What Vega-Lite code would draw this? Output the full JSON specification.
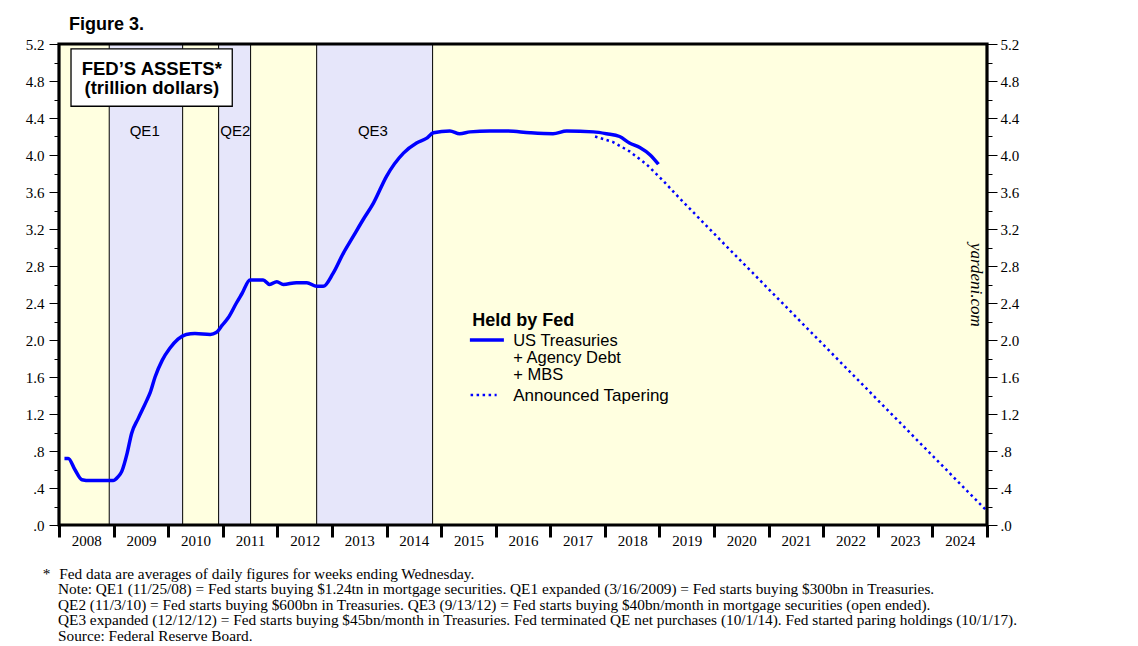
{
  "$schema": "https://vega.github.io/schema/vega-lite/v6.json",
  "width": 928,
  "height": 481,
  "autosize": "none",
  "padding": {"left": 59, "top": 44, "right": 151, "bottom": 121},
  "background": "white",
  "title": {"text": "Figure 3.", "anchor": "start", "frame": "group", "dx": 10, "offset": 3, "font": "Liberation Sans", "fontSize": 18, "fontWeight": "bold", "color": "black"},
  "config": {"view": {"fill": "#FFFFE0", "stroke": null}},
  "datasets": {
    "qe": [
      {"name": "QE1", "start": 2008.92, "end": 2010.265},
      {"name": "QE2", "start": 2010.924, "end": 2011.51},
      {"name": "QE3", "start": 2012.72, "end": 2014.844}
    ],
    "bounds": [
      {"t": 2008.92}, {"t": 2010.265}, {"t": 2010.924}, {"t": 2011.51}, {"t": 2012.72}, {"t": 2014.844}
    ],
    "held": [
      {"t": 2008.10, "v": 0.72}, {"t": 2008.17, "v": 0.72}, {"t": 2008.29, "v": 0.60}, {"t": 2008.42, "v": 0.49},
      {"t": 2008.57, "v": 0.48}, {"t": 2008.75, "v": 0.48}, {"t": 2008.99, "v": 0.48}, {"t": 2009.08, "v": 0.52},
      {"t": 2009.15, "v": 0.58}, {"t": 2009.25, "v": 0.78}, {"t": 2009.33, "v": 0.99}, {"t": 2009.45, "v": 1.15},
      {"t": 2009.61, "v": 1.35}, {"t": 2009.67, "v": 1.43}, {"t": 2009.76, "v": 1.60}, {"t": 2009.89, "v": 1.78},
      {"t": 2010.03, "v": 1.91}, {"t": 2010.18, "v": 2.01}, {"t": 2010.33, "v": 2.06}, {"t": 2010.49, "v": 2.07},
      {"t": 2010.77, "v": 2.06}, {"t": 2010.88, "v": 2.08}, {"t": 2010.99, "v": 2.16}, {"t": 2011.10, "v": 2.24},
      {"t": 2011.25, "v": 2.40}, {"t": 2011.35, "v": 2.50}, {"t": 2011.50, "v": 2.65}, {"t": 2011.74, "v": 2.65},
      {"t": 2011.86, "v": 2.60}, {"t": 2011.99, "v": 2.63}, {"t": 2012.11, "v": 2.60}, {"t": 2012.35, "v": 2.62},
      {"t": 2012.54, "v": 2.62}, {"t": 2012.72, "v": 2.58}, {"t": 2012.84, "v": 2.58}, {"t": 2013.02, "v": 2.72},
      {"t": 2013.21, "v": 2.94}, {"t": 2013.39, "v": 3.12}, {"t": 2013.57, "v": 3.30}, {"t": 2013.76, "v": 3.48},
      {"t": 2014.00, "v": 3.77}, {"t": 2014.31, "v": 4.02}, {"t": 2014.55, "v": 4.13}, {"t": 2014.73, "v": 4.18},
      {"t": 2014.86, "v": 4.24}, {"t": 2015.16, "v": 4.26}, {"t": 2015.34, "v": 4.23}, {"t": 2015.53, "v": 4.25},
      {"t": 2015.89, "v": 4.26}, {"t": 2016.20, "v": 4.26}, {"t": 2016.63, "v": 4.24}, {"t": 2017.05, "v": 4.23},
      {"t": 2017.30, "v": 4.26}, {"t": 2017.79, "v": 4.25}, {"t": 2018.03, "v": 4.23}, {"t": 2018.27, "v": 4.20},
      {"t": 2018.45, "v": 4.13}, {"t": 2018.64, "v": 4.08}, {"t": 2018.83, "v": 4.00}, {"t": 2018.98, "v": 3.90}
    ],
    "taper": [
      {"t": 2017.82, "v": 4.20}, {"t": 2018.15, "v": 4.14}, {"t": 2018.45, "v": 4.04}, {"t": 2018.76, "v": 3.90},
      {"t": 2019.07, "v": 3.72}, {"t": 2019.34, "v": 3.55}, {"t": 2020.00, "v": 3.15}, {"t": 2021.00, "v": 2.55},
      {"t": 2022.00, "v": 1.95}, {"t": 2023.00, "v": 1.35}, {"t": 2024.00, "v": 0.75}, {"t": 2025.00, "v": 0.15}
    ]
  },
  "layer": [
    {
      "data": {"name": "qe"},
      "mark": {"type": "rect", "color": "#E6E6FA"},
      "encoding": {
        "x": {"field": "start", "type": "quantitative", "axis": null},
        "x2": {"field": "end"},
        "y": {"datum": 0, "axis": null},
        "y2": {"datum": 5.2}
      }
    },
    {
      "data": {"name": "bounds"},
      "mark": {"type": "rule", "color": "black", "strokeWidth": 1},
      "encoding": {
        "x": {"field": "t", "type": "quantitative", "axis": null},
        "y": {"datum": 0, "axis": null},
        "y2": {"datum": 5.2}
      }
    },
    {
      "data": {"name": "held"},
      "mark": {"type": "line", "color": "#0000FF", "strokeWidth": 3.5, "interpolate": "monotone"},
      "encoding": {
        "x": {
          "field": "t", "type": "quantitative",
          "scale": {"domain": [2008, 2025], "nice": false, "zero": false},
          "axis": {
            "orient": "bottom",
            "values": [2008, 2009, 2010, 2011, 2012, 2013, 2014, 2015, 2016, 2017, 2018, 2019, 2020, 2021, 2022, 2023, 2024, 2025],
            "labelExpr": "datum.value < 2025 ? format(datum.value, 'd') : ''",
            "labelOffset": 27.3,
            "labelFlush": false, "labelOverlap": false, "labelBound": false,
            "tickSize": 12, "tickWidth": 3, "tickColor": "black",
            "domain": false, "grid": false,
            "labelFont": "Liberation Serif", "labelFontSize": 15, "labelColor": "black", "labelPadding": -4,
            "title": [
              "*\u2002\u200aFed data are averages of daily figures for weeks ending Wednesday.",
              "\u200b\u2003Note: QE1 (11/25/08) = Fed starts buying $1.24tn in mortgage securities. QE1 expanded (3/16/2009) = Fed starts buying $300bn in Treasuries.",
              "\u200b\u2003QE2 (11/3/10) = Fed starts buying $600bn in Treasuries. QE3 (9/13/12) = Fed starts buying $40bn/month in mortgage securities (open ended).",
              "\u200b\u2003QE3 expanded (12/12/12) = Fed starts buying $45bn/month in Treasuries. Fed terminated QE net purchases (10/1/14). Fed started paring holdings (10/1/17).",
              "\u200b\u2003Source: Federal Reserve Board."
            ],
            "titleX": -16.8, "titleY": 53, "titleAlign": "left", "titleAnchor": "start", "titleBaseline": "alphabetic",
            "titleFont": "Liberation Serif", "titleFontSize": 15.3, "titleFontWeight": "normal", "titleLineHeight": 15.5, "titleColor": "black"
          }
        },
        "y": {
          "field": "v", "type": "quantitative",
          "scale": {"domain": [0, 5.2], "nice": false},
          "axis": {
            "orient": "left",
            "values": [0, 0.4, 0.8, 1.2, 1.6, 2.0, 2.4, 2.8, 3.2, 3.6, 4.0, 4.4, 4.8, 5.2],
            "labelExpr": "datum.value < 1 ? '.' + format(datum.value * 10, '.0f') : format(datum.value, '.1f')",
            "tickSize": 10, "tickWidth": 1, "tickColor": "black", "labelPadding": 5,
            "domain": false, "grid": false, "title": null, "labelFlush": false, "labelOverlap": false,
            "labelFont": "Liberation Serif", "labelFontSize": 15, "labelColor": "black"
          }
        }
      }
    },
    {
      "data": {"name": "taper"},
      "mark": {"type": "line", "color": "#0000FF", "strokeWidth": 2.5, "strokeDash": [2.5, 3.5]},
      "encoding": {
        "x": {"field": "t", "type": "quantitative", "axis": null},
        "y": {
          "field": "v", "type": "quantitative",
          "axis": {
            "orient": "right",
            "values": [0, 0.4, 0.8, 1.2, 1.6, 2.0, 2.4, 2.8, 3.2, 3.6, 4.0, 4.4, 4.8, 5.2],
            "labelExpr": "datum.value < 1 ? '.' + format(datum.value * 10, '.0f') : format(datum.value, '.1f')",
            "tickSize": 10, "tickWidth": 1, "tickColor": "black", "labelPadding": 3,
            "domain": false, "grid": false, "title": null, "labelFlush": false, "labelOverlap": false,
            "labelFont": "Liberation Serif", "labelFontSize": 15, "labelColor": "black"
          }
        }
      }
    },
    {
      "data": {"name": "held"},
      "mark": {"type": "point", "opacity": 0},
      "encoding": {
        "x": {"field": "t", "type": "quantitative", "axis": null},
        "y": {
          "field": "v", "type": "quantitative",
          "axis": {
            "orient": "left",
            "values": [0.2, 0.6, 1.0, 1.4, 1.8, 2.2, 2.6, 3.0, 3.4, 3.8, 4.2, 4.6, 5.0],
            "labels": false, "tickSize": 5, "tickWidth": 1, "tickColor": "black",
            "domain": false, "grid": false, "title": null
          }
        }
      }
    },
    {
      "data": {"name": "taper"},
      "mark": {"type": "point", "opacity": 0},
      "encoding": {
        "x": {"field": "t", "type": "quantitative", "axis": null},
        "y": {
          "field": "v", "type": "quantitative",
          "axis": {
            "orient": "right",
            "values": [0.2, 0.6, 1.0, 1.4, 1.8, 2.2, 2.6, 3.0, 3.4, 3.8, 4.2, 4.6, 5.0],
            "labels": false, "tickSize": 5, "tickWidth": 1, "tickColor": "black",
            "domain": false, "grid": false, "title": null
          }
        }
      }
    },
    {
      "data": {"values": [{"item": "frame"}]},
      "mark": {"type": "rect", "fillOpacity": 0, "stroke": "black", "strokeWidth": 3.2},
      "encoding": {
        "x": {"datum": 2008, "axis": null},
        "x2": {"datum": 2025},
        "y": {"datum": 0, "axis": null},
        "y2": {"datum": 5.2}
      }
    },
    {
      "data": {"values": [{"item": "titlebox"}]},
      "mark": {"type": "rect", "fill": "white", "stroke": "black", "strokeWidth": 1.3},
      "encoding": {
        "x": {"datum": 2008.22, "axis": null},
        "x2": {"datum": 2011.174},
        "y": {"datum": 4.527, "axis": null},
        "y2": {"datum": 5.148}
      }
    },
    {
      "data": {"values": [{"label": ["FED\u2019S ASSETS*", "(trillion dollars)"]}]},
      "mark": {"type": "text", "font": "Liberation Sans", "fontSize": 18.5, "fontWeight": "bold", "align": "center", "baseline": "alphabetic", "lineHeight": 19.5, "color": "black"},
      "encoding": {
        "text": {"field": "label"},
        "x": {"datum": 2009.70, "axis": null},
        "y": {"datum": 4.865, "axis": null}
      }
    },
    {
      "data": {"values": [{"label": "QE1"}]},
      "mark": {"type": "text", "font": "Liberation Sans", "fontSize": 15, "align": "center", "baseline": "alphabetic", "color": "black"},
      "encoding": {"text": {"field": "label"}, "x": {"datum": 2009.57, "axis": null}, "y": {"datum": 4.205, "axis": null}}
    },
    {
      "data": {"values": [{"label": "QE2"}]},
      "mark": {"type": "text", "font": "Liberation Sans", "fontSize": 15, "align": "center", "baseline": "alphabetic", "color": "black"},
      "encoding": {"text": {"field": "label"}, "x": {"datum": 2011.23, "axis": null}, "y": {"datum": 4.205, "axis": null}}
    },
    {
      "data": {"values": [{"label": "QE3"}]},
      "mark": {"type": "text", "font": "Liberation Sans", "fontSize": 15, "align": "center", "baseline": "alphabetic", "color": "black"},
      "encoding": {"text": {"field": "label"}, "x": {"datum": 2013.75, "axis": null}, "y": {"datum": 4.205, "axis": null}}
    },
    {
      "data": {"values": [{"label": "Held by Fed"}]},
      "mark": {"type": "text", "font": "Liberation Sans", "fontSize": 18, "fontWeight": "bold", "align": "left", "baseline": "alphabetic", "color": "black"},
      "encoding": {"text": {"field": "label"}, "x": {"datum": 2015.57, "axis": null}, "y": {"datum": 2.155, "axis": null}}
    },
    {
      "data": {"values": [{"series": "US Treasuries"}]},
      "mark": {"type": "rule", "color": "#0000FF", "strokeWidth": 3.5},
      "encoding": {"x": {"datum": 2015.527, "axis": null}, "x2": {"datum": 2016.15}, "y": {"datum": 2.0, "axis": null}}
    },
    {
      "data": {"values": [{"label": ["US Treasuries", "+ Agency Debt", "+ MBS"]}]},
      "mark": {"type": "text", "font": "Liberation Sans", "fontSize": 16.5, "align": "left", "baseline": "alphabetic", "lineHeight": 17, "color": "black"},
      "encoding": {"text": {"field": "label"}, "x": {"datum": 2016.32, "axis": null}, "y": {"datum": 1.938, "axis": null}}
    },
    {
      "data": {"values": [{"series": "Announced Tapering"}]},
      "mark": {"type": "rule", "color": "#0000FF", "strokeWidth": 2.5, "strokeDash": [2.5, 3.5]},
      "encoding": {"x": {"datum": 2015.54, "axis": null}, "x2": {"datum": 2016.017}, "y": {"datum": 1.405, "axis": null}}
    },
    {
      "data": {"values": [{"label": "Announced Tapering"}]},
      "mark": {"type": "text", "font": "Liberation Sans", "fontSize": 17, "align": "left", "baseline": "alphabetic", "color": "black"},
      "encoding": {"text": {"field": "label"}, "x": {"datum": 2016.32, "axis": null}, "y": {"datum": 1.344, "axis": null}}
    },
    {
      "data": {"values": [{"label": "yardeni.com"}]},
      "mark": {"type": "text", "font": "Liberation Serif", "fontSize": 17, "fontStyle": "italic", "angle": 90, "align": "center", "baseline": "middle", "color": "black"},
      "encoding": {"text": {"field": "label"}, "x": {"datum": 2024.8, "axis": null}, "y": {"datum": 2.595, "axis": null}}
    }
  ],
  "resolve": {"axis": {"x": "independent", "y": "independent"}}
}
